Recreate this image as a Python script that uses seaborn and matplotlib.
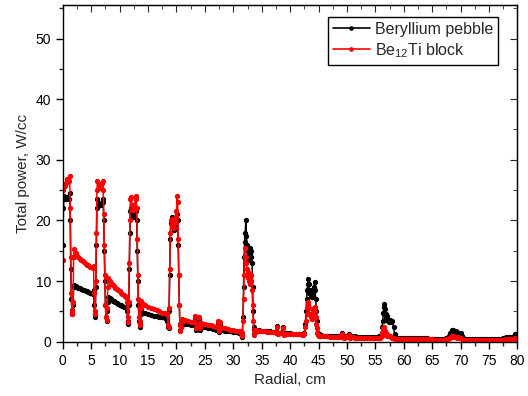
import matplotlib
matplotlib.use('Agg')
import matplotlib.pyplot as plt
import numpy as np
import pandas as pd
import seaborn as sns

# Perfil radial de potencia total (W/cc)
radial = [
    0, 0.1, 0.2, 0.4, 0.6, 0.8, 1.0, 1.2, 1.3, 1.4, 1.5, 1.6, 1.7, 1.8,
    1.9, 2.0, 2.25, 2.5, 2.75, 3.0, 3.25, 3.5, 3.75, 4.0, 4.25, 4.5, 4.75, 5.0, 5.25,
    5.4, 5.5, 5.6, 5.7, 5.8, 5.9, 6.0, 6.1, 6.3, 6.5, 6.7, 6.9, 7.0, 7.1, 7.2, 7.3, 7.4, 7.5, 7.6, 7.7, 7.8,
    7.9, 8.0, 8.25, 8.5, 8.75, 9.0, 9.25, 9.5, 9.75, 10.0, 10.25, 10.5, 10.75, 11.0, 11.2,
    11.3, 11.4, 11.5, 11.6, 11.7, 11.8, 11.9, 12.0, 12.2, 12.4, 12.6, 12.8, 12.9, 13.0, 13.1, 13.2, 13.3, 13.4, 13.5, 13.6, 13.7,
    13.8, 14.0, 14.5, 15.0, 15.5, 16.0, 16.5, 17.0, 17.5, 18.0, 18.3,
    18.4, 18.5, 18.6, 18.7, 18.8, 18.9, 19.0, 19.2, 19.4, 19.6, 19.8, 19.9, 20.0, 20.1, 20.2, 20.3, 20.4, 20.5, 20.6, 20.7, 20.8,
    20.9, 21.0, 21.5, 22.0, 22.5, 23.0, 23.2, 23.4, 23.6, 23.8, 24.0, 24.2, 24.4, 24.6, 25.0, 25.5,
    26.0, 26.5, 27.0, 27.3, 27.5, 27.7, 27.9, 28.2, 28.5, 29.0, 29.5, 30.0, 30.5, 31.0, 31.3,
    31.4, 31.5, 31.6, 31.7, 31.8, 31.9, 32.0, 32.1, 32.2, 32.3, 32.4, 32.5, 32.6, 32.7, 32.8, 32.9,
    33.0, 33.1, 33.2, 33.3, 33.4, 33.5, 33.6, 33.7, 33.8,
    33.9, 34.0, 34.5, 35.0, 35.5, 36.0, 36.5, 37.0, 37.5, 37.7, 37.9, 38.1, 38.3, 38.5, 38.7, 38.9,
    39.2, 39.5, 40.0, 40.5, 41.0, 41.5, 42.0,
    42.3, 42.5, 42.7, 42.8, 42.9, 43.0, 43.1, 43.2, 43.3, 43.4, 43.5, 43.6, 43.7, 43.8, 43.9, 44.0,
    44.1, 44.2, 44.3, 44.4, 44.5, 44.6, 44.7, 44.8, 44.9, 45.0, 45.1, 45.2,
    45.3, 45.5, 46.0, 46.5, 47.0, 47.5, 48.0, 48.5, 49.0, 49.2, 49.4, 49.6, 49.8, 50.0, 50.2, 50.4,
    50.6, 51.0, 51.5, 52.0, 52.5, 53.0, 53.5, 54.0, 54.5, 55.0, 55.5,
    55.7, 55.9, 56.1, 56.2, 56.3, 56.4, 56.5, 56.6, 56.7, 56.8, 56.9, 57.0, 57.1, 57.2, 57.4, 57.6,
    57.8, 58.0, 58.2, 58.4, 58.6, 58.8,
    59.0, 59.5, 60.0, 60.5, 61.0, 61.5, 62.0, 62.5, 63.0, 63.5, 64.0, 64.5, 65.0, 65.5, 66.0, 66.5, 67.0, 67.5,
    67.8, 68.0, 68.2, 68.4, 68.6, 68.8, 69.0, 69.2, 69.4, 69.6, 69.8, 70.0, 70.2, 70.4, 70.6,
    71.0, 71.5, 72.0, 72.5, 73.0, 73.5, 74.0, 74.5, 75.0, 75.5, 76.0, 76.5, 77.0, 77.5, 78.0, 78.5,
    79.0, 79.3, 79.6, 79.8, 80.0,
]

be_pebble = [
    16, 22, 24, 23.5, 23.6, 23.8, 23.5, 24.5, 20, 12, 7, 5.2, 4.5, 6,
    9, 9.4, 9.2, 9.0, 8.9, 8.8, 8.7, 8.6, 8.5, 8.4, 8.3, 8.2, 8.1, 8.0, 7.9,
    8.5, 6, 4, 4.5, 9, 16, 22, 23.5, 22.8, 22.5, 22.6, 22.8, 23.5, 23, 20, 15, 10, 6, 4, 3.5, 5,
    6.5, 7.4, 7.2, 7.0, 6.8, 6.7, 6.5, 6.4, 6.2, 6.1, 6.0, 5.9, 5.8, 5.7, 5.6,
    5, 3.5, 3, 6, 12, 18, 21.5, 22, 21, 20.5, 20.8, 21.5, 22, 20, 15, 10, 6, 3.5, 2.5, 3, 4.5,
    5.0, 4.9, 4.7, 4.5, 4.4, 4.3, 4.2, 4.1, 4.0, 3.9, 3.8,
    3.5, 2.5, 2.2, 5, 11, 17, 19.5, 20.5, 19, 18.5, 19, 20, 20.5, 21, 20, 16, 11, 6, 3, 2, 2.5,
    2.8, 3.2, 3.0, 2.9, 2.8, 2.7, 3.8, 2.0, 2.5, 3.6, 3.7, 2.0, 2.6, 2.5, 2.4, 2.3,
    2.2, 2.1, 2.0, 3.0, 1.6, 2.8, 1.9, 1.9, 1.8, 1.75, 1.7, 1.6, 1.55, 1.5, 1.4,
    1.2, 0.8, 1.5, 4, 9, 14, 16.5, 18, 20, 17.5, 16, 15, 13.5, 14.5, 13.8, 14.5,
    15.5, 14, 15, 13, 9, 5, 2.5, 1.2, 1.6,
    1.8, 2.0, 1.9, 1.85, 1.8, 1.75, 1.7, 1.65, 1.6, 2.6, 1.4, 1.5, 1.5, 1.6, 2.4, 1.3,
    1.45, 1.4, 1.4, 1.35, 1.3, 1.3, 1.25,
    1.2, 1.5, 3, 5, 7, 8.5, 9.5, 10.4, 9.5, 8.0, 8.5, 7.5, 8.2, 7.4, 7.8, 8.5,
    8.0, 9.0, 9.8, 8.5, 7, 5, 3.5, 2.2, 1.5, 1.2, 1.3, 1.1,
    1.0, 1.05, 1.0, 1.0, 0.98, 0.96, 0.95, 0.94, 0.93, 1.4, 0.8, 0.9, 0.9, 0.9, 0.9, 1.3,
    0.8, 0.88, 0.87, 0.86, 0.85, 0.84, 0.83, 0.82, 0.81, 0.8, 0.85,
    0.9, 1.0, 1.5, 2.5, 3.5, 4.8, 5.8, 6.2, 5.4, 4.5, 4.0, 3.6, 4.2, 3.5, 3.3, 3.6,
    3.2, 3.4, 2.4, 1.2, 0.6, 0.7,
    0.62, 0.6, 0.6, 0.58, 0.58, 0.56, 0.56, 0.55, 0.55, 0.54, 0.54, 0.53, 0.53, 0.52, 0.52, 0.51, 0.5, 0.55,
    0.6, 0.9, 1.4, 1.9, 2.0, 1.6, 1.5, 1.7, 1.4, 1.5, 1.3, 1.4, 1.0, 0.6, 0.45,
    0.45, 0.45, 0.44, 0.44, 0.43, 0.43, 0.42, 0.42, 0.42, 0.41, 0.41, 0.41, 0.45, 0.6, 0.75, 0.8,
    0.85, 0.8, 1.3, 0.9, 0.8,
]

be12ti_block = [
    13.5, 25, 26, 25.7, 26.2, 26.8, 26.5, 27.4, 22, 14, 8, 5, 4.6, 6.5,
    14, 15.3, 14.6, 14.2, 13.9, 13.7, 13.5, 13.3, 13.1, 12.9, 12.7, 12.6, 12.4, 12.3, 12.2,
    12.5, 8, 4.5, 5, 10, 18, 25, 26.5, 25.8, 25.3, 25.8, 26.2, 26.5, 25, 21, 16, 11, 6, 4, 3.6, 5.5,
    9, 10.5, 10.0, 9.7, 9.4, 9.2, 8.9, 8.7, 8.5, 8.3, 8.1, 7.9, 7.7, 7.5, 7.4,
    6.5, 4, 3.2, 6.5, 13, 20, 23.5, 23.8, 22.5, 21.8, 22.5, 23.5, 24, 22, 17, 11, 7, 4, 2.8, 3.5, 5.5,
    6.8, 6.4, 6.1, 5.8, 5.6, 5.4, 5.2, 5.0, 4.8, 4.7, 4.6,
    4.5, 2.8, 2.4, 5.5, 12, 18, 20, 20.3, 19, 18.8, 19.5, 20.5, 21.5, 24, 23, 17, 11, 6, 2.8, 1.8, 2.5,
    3.3, 3.8, 3.6, 3.4, 3.3, 3.2, 4.2, 2.2, 3.0, 4.0, 4.1, 2.2, 3.1, 3.0, 2.9, 2.8,
    2.7, 2.6, 2.5, 3.4, 1.8, 3.2, 2.3, 2.3, 2.2, 2.1, 2.0, 1.9, 1.85, 1.8, 1.7,
    1.5, 1.0, 1.4, 3.5, 7, 11, 14, 15.5, 14, 13, 12, 11.5, 10.5, 11, 10, 9.5,
    10.5, 11, 10, 8.5, 6, 3.5, 2, 1.1, 2.0,
    1.7, 1.9, 1.8, 1.75, 1.7, 1.65, 1.6, 1.55, 1.5, 2.4, 1.2, 1.4, 1.4, 1.5, 2.2, 1.1,
    1.35, 1.3, 1.3, 1.25, 1.2, 1.2, 1.15,
    1.1, 1.3, 2.5, 3.5, 4.5, 5.5, 6, 6.5, 5.5, 4.5, 4.5, 4.0, 4.3, 3.8, 4.2, 4.8,
    5.0, 5.5, 5.8, 5.0, 4, 3, 2.2, 1.5, 1.1, 0.9, 1.0, 0.9,
    0.9, 0.95, 0.9, 0.88, 0.86, 0.84, 0.82, 0.8, 0.78, 1.2, 0.65, 0.75, 0.75, 0.75, 0.75, 1.1,
    0.65, 0.72, 0.7, 0.68, 0.66, 0.64, 0.62, 0.6, 0.58, 0.56, 0.6,
    0.6, 0.7, 1.0, 1.4, 1.8, 2.2, 2.5, 2.3, 1.8, 1.4, 1.2, 1.0, 1.3, 1.0, 0.9, 1.0,
    0.8, 0.7, 0.6, 0.5, 0.4, 0.5,
    0.45, 0.44, 0.43, 0.42, 0.42, 0.41, 0.41, 0.4, 0.4, 0.39, 0.39, 0.38, 0.38, 0.37, 0.37, 0.36, 0.36, 0.4,
    0.45, 0.55, 0.7, 0.9, 0.95, 0.8, 0.75, 0.8, 0.7, 0.75, 0.65, 0.7, 0.5, 0.35, 0.3,
    0.3, 0.3, 0.3, 0.3, 0.29, 0.29, 0.29, 0.28, 0.28, 0.28, 0.28, 0.28, 0.3, 0.35, 0.4, 0.42,
    0.45, 0.42, 0.6, 0.45, 0.4,
]

series = {'Beryllium pebble': (be_pebble, 'black'),
          'Be$_{12}$Ti block': (be12ti_block, 'red')}

x_major = np.arange(0, 80.1, 5)
x_minor = np.arange(2.5, 80, 5)
y_major = np.arange(0, 51, 10)
y_minor = np.arange(5, 56, 10)

sns.set_style('ticks')
plt.rcParams['font.family'] = ['Liberation Sans', 'DejaVu Sans']
plt.rcParams['mathtext.fontset'] = 'custom'
plt.rcParams['mathtext.rm'] = 'Liberation Sans'

fig = plt.figure(figsize=(5.28, 3.96), dpi=100)
ax = fig.add_axes([0.119, 0.137, 0.861, 0.85])

for nombre, (valores, color) in series.items():
    sns.lineplot(x=radial, y=valores, sort=False, estimator=None, label=nombre,
                 color=color, marker='o', markersize=3, markeredgewidth=0.8,
                 markeredgecolor=color, markerfacecolor=color, linewidth=1.1, ax=ax)

ax.set_xlim(0, 80)
ax.set_ylim(0, 55.5)
ax.set_xticks(x_major)
ax.set_xticklabels([f'{v:g}' for v in x_major])
ax.set_yticks(y_major)
ax.set_xticks(x_minor, minor=True)
ax.set_yticks(y_minor, minor=True)
ax.tick_params(which='major', length=5, width=1, labelsize=10, colors='black')
ax.tick_params(which='minor', length=3, width=1)
ax.set_xlabel('Radial, cm', fontsize=11)
ax.set_ylabel('Total power, W/cc', fontsize=11)

# ejes superior y derecho con marcas hacia dentro (estilo Origin)
for side in ['top', 'right']:
    ax.spines[side].set_visible(True)
for spine in ax.spines.values():
    spine.set_linewidth(1)
    spine.set_color('black')
top = ax.secondary_xaxis('top')
top.set_xticks(x_major)
top.set_xticks(x_minor, minor=True)
top.tick_params(which='both', direction='in', labeltop=False)
top.tick_params(which='major', length=5)
top.tick_params(which='minor', length=3)
right = ax.secondary_yaxis('right')
right.set_yticks(y_major)
right.set_yticks(y_minor, minor=True)
right.tick_params(which='both', direction='in', labelright=False)
right.tick_params(which='major', length=5)
right.tick_params(which='minor', length=3)

leg = ax.legend(loc='upper right', bbox_to_anchor=(0.958, 0.964), borderaxespad=0,
                fontsize=11.5, frameon=True, fancybox=False, edgecolor='black',
                framealpha=1, handlelength=2.3, handletextpad=0.35,
                borderpad=0.3, labelspacing=0.25)
leg.get_frame().set_linewidth(1)
for h in leg.legend_handles:
    h.set_markersize(2.5)
    h.set_linewidth(1.2)

fig.savefig('out.png', dpi=100)
